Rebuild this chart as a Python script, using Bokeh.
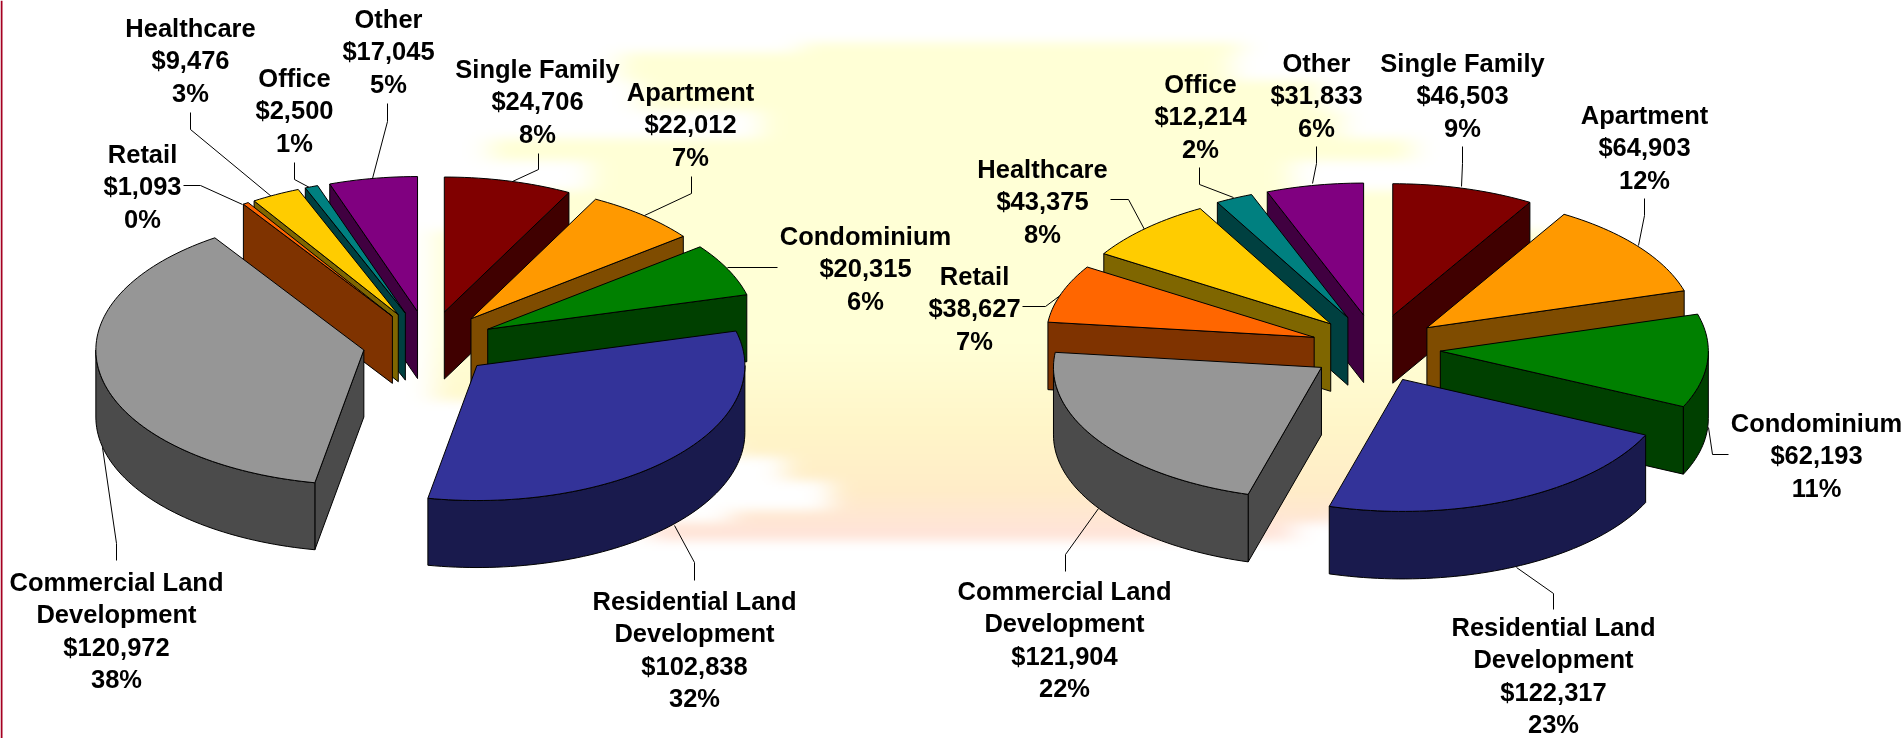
import numpy as np
from bokeh.core.properties import value
from bokeh.embed import file_html
from bokeh.models import ColumnDataSource, Range1d
from bokeh.plotting import figure
from bokeh.resources import INLINE

# ---- chart data ----
categories = ["Single Family", "Apartment", "Condominium", "Residential Land\nDevelopment",
              "Commercial Land\nDevelopment", "Retail", "Healthcare", "Office", "Other"]
values_left = [24706, 22012, 20315, 102838, 120972, 1093, 9476, 2500, 17045]
values_right = [46503, 64903, 62193, 122317, 121904, 38627, 43375, 12214, 31833]
percent_left = ["8%", "7%", "6%", "32%", "38%", "0%", "3%", "1%", "5%"]
percent_right = ["9%", "12%", "11%", "23%", "22%", "7%", "8%", "2%", "6%"]

# ---- styles ----
top_colors = ["#800000", "#FF9900", "#008000", "#333399", "#969696",
              "#FF6600", "#FFCC00", "#008080", "#800080"]
side_colors = ["#400000", "#7F4C00", "#004000", "#191A4D", "#4B4B4B",
               "#7F3300", "#7F6600", "#004040", "#400040"]

# ---- layout (screen pixels, y downward) ----
W, H = 1903, 738
FONT = "Liberation Sans"
LINE_H = 32.5
pie_left = dict(cx=428, cy=343, rx=268, ry=135, ex=66, ey=32.4, depth=67)
pie_right = dict(cx=1375, cy=348, rx=268, ry=132, ex=65, ey=34, depth=67.5)

label_left = [(537, 68), (690, 91), (865, 235), (694, 600), (116, 581),
              (142, 153), (190, 27), (294, 77), (388, 18)]
label_right = [(1462, 62), (1644, 114), (1816, 422), (1553, 626), (1064, 590),
               (974, 275), (1042, 168), (1200, 83), (1316, 62)]
leaders_left = [
    [(538, 153), (538, 169), (512, 181)],
    [(691, 176), (691, 193), (644, 215)],
    [(777, 267), (727, 267)],
    [(694, 580), (694, 562), (674, 525)],
    [(116, 560), (116, 543), (102, 447)],
    [(183, 185), (200, 185), (242, 204)],
    [(190, 112), (190, 129), (271, 196)],
    [(294, 162), (294, 179), (309, 187)],
    [(387, 103), (387, 121), (372, 178)],
]
leaders_right = [
    [(1462, 146), (1462, 163), (1461, 186)],
    [(1644, 198), (1644, 215), (1638, 245)],
    [(1728, 454), (1712, 454), (1708, 427)],
    [(1553, 609), (1553, 593), (1516, 567)],
    [(1065, 571), (1065, 554), (1098, 508)],
    [(1022, 306), (1045, 306), (1061, 294)],
    [(1110, 199), (1128, 199), (1144, 229)],
    [(1199, 167), (1199, 184), (1233, 197)],
    [(1316, 146), (1316, 163), (1312, 183)],
]
# streaky glow behind the pies: bands of y0, y1, left edge, right edge
glow_bands = [(43, 52, 800, 1240), (52, 80, 620, 1230), (80, 110, 640, 1320),
              (110, 138, 760, 1340), (138, 160, 490, 1410), (160, 190, 590, 1290),
              (190, 230, 470, 1450), (230, 400, 435, 1560), (400, 440, 600, 1560),
              (440, 457, 730, 1440), (457, 480, 785, 1440), (480, 510, 830, 1400),
              (510, 523, 730, 1340), (523, 540, 650, 1290)]


def fy(y):
    return H - np.asarray(y, dtype=float)


def make_glow():
    step = 2
    rows, cols = H // step, W // step
    ys = (np.arange(rows) + 0.5) * step
    xs = (np.arange(cols) + 0.5) * step
    a = np.zeros((rows, cols))
    for y0, y1, x0, x1 in glow_bands:
        a[np.ix_((ys >= y0) & (ys < y1), (xs >= x0) & (xs < x1))] = 1.0
    kx, ky = np.ones(13) / 13, np.ones(5) / 5
    for _ in range(3):
        a = np.apply_along_axis(lambda r: np.convolve(r, kx, mode="same"), 1, a)
        a = np.apply_along_axis(lambda c: np.convolve(c, ky, mode="same"), 0, a)
    g = np.interp(ys, [0, 340, 430, 490, 530], [255, 255, 245, 236, 228])
    b = np.interp(ys, [0, 340, 430, 490, 530], [214, 214, 200, 200, 216])
    img = np.zeros((rows, cols), dtype=np.uint32)
    view = img.view(np.uint8).reshape(rows, cols, 4)
    view[..., 0] = 255
    view[..., 1] = np.round(255 - (255 - g[:, None]) * a)
    view[..., 2] = np.round(255 - (255 - b[:, None]) * a)
    view[..., 3] = 255
    return img[::-1]


def arc(pie, ox, oy, a, b, dy=0.0):
    n = max(2, int(abs(b - a) / 1.5) + 2)
    t = np.radians(np.linspace(a, b, n))
    return ox + pie["rx"] * np.sin(t), oy - pie["ry"] * np.cos(t) + dy


def pie_polygons(vals, pie):
    total = sum(vals)
    sweep = [v / total * 360 for v in vals]
    starts = np.cumsum([0] + sweep[:-1])
    order = sorted(range(len(vals)), key=lambda i: -np.cos(np.radians(starts[i] + sweep[i] / 2)))
    xs, ys, fills = [], [], []
    d = pie["depth"]
    for i in order:
        a, b = starts[i], starts[i] + sweep[i]
        m = np.radians((a + b) / 2)
        ox = pie["cx"] + pie["ex"] * np.sin(m)
        oy = pie["cy"] - pie["ey"] * np.cos(m)
        # radial walls that face the viewer
        for ang, visible in ((a, 180 < a < 360), (b, 0 < b < 180)):
            if visible:
                t = np.radians(ang)
                ex, ey = ox + pie["rx"] * np.sin(t), oy - pie["ry"] * np.cos(t)
                xs.append([ox, ex, ex, ox])
                ys.append(list(fy([oy, ey, ey + d, oy + d])))
                fills.append(side_colors[i])
        # outer rim
        ra, rb = max(a, 90), min(b, 270)
        if ra < rb:
            x1, y1 = arc(pie, ox, oy, ra, rb)
            x2, y2 = arc(pie, ox, oy, rb, ra, d)
            xs.append(list(np.r_[x1, x2]))
            ys.append(list(fy(np.r_[y1, y2])))
            fills.append(side_colors[i])
        # top
        x1, y1 = arc(pie, ox, oy, a, b)
        xs.append(list(np.r_[ox, x1]))
        ys.append(list(fy(np.r_[oy, y1])))
        fills.append(top_colors[i])
    return xs, ys, fills


p = figure(width=W, height=H, x_range=Range1d(0, W), y_range=Range1d(0, H),
           output_backend="svg", toolbar_location=None, min_border=0,
           background_fill_color="white", border_fill_color="white",
           outline_line_color=None,
           styles={"position": "fixed", "left": "0px", "top": "0px"})
p.axis.visible = False
p.grid.visible = False

p.image_rgba(image=[make_glow()], x=0, y=0, dw=W, dh=H)
p.quad(left=[0], right=[2], bottom=[0], top=[H], fill_color="#A50021", line_color=None)

for vals, pct, pie, labels, leaders in (
    (values_left, percent_left, pie_left, label_left, leaders_left),
    (values_right, percent_right, pie_right, label_right, leaders_right),
):
    lx = [[q[0] for q in l] for l in leaders]
    ly = [list(fy([q[1] for q in l])) for l in leaders]
    p.multi_line(xs=lx, ys=ly, line_color="black", line_width=1)

    xs, ys, fills = pie_polygons(vals, pie)
    p.patches(xs="xs", ys="ys", fill_color="fill", line_color="black", line_width=1,
              line_join="round", source=ColumnDataSource(dict(xs=xs, ys=ys, fill=fills)))

    tx, ty, tt = [], [], []
    for name, v, pc, (x, y) in zip(categories, vals, pct, labels):
        lines = name.split("\n") + [f"${v:,}", pc]
        for k, line in enumerate(lines):
            tx.append(x)
            ty.append(float(fy(y + k * LINE_H)))
            tt.append(line)
    p.text(x="x", y="y", text="t", text_align="center", text_baseline="middle",
           text_font=value(FONT), text_font_style="bold", text_font_size="25.5px",
           text_color="black", source=ColumnDataSource(dict(x=tx, y=ty, t=tt)))

open("out.html", "w").write(file_html(p, INLINE))
